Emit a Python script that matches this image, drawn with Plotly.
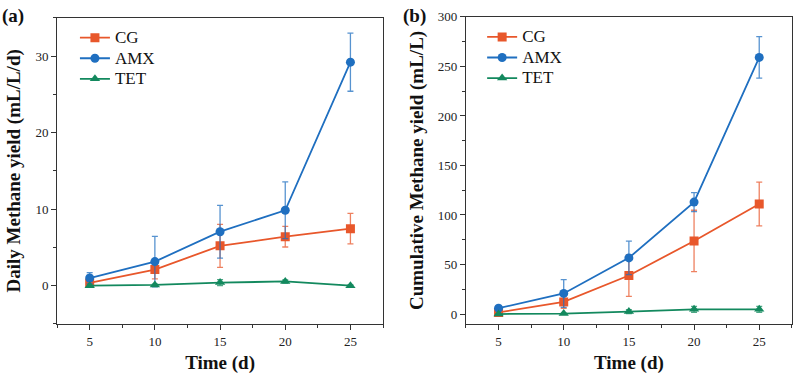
import plotly.graph_objects as go

days = [5, 10, 15, 20, 25]

# Panel (a): daily methane yield (mL/L/d)
daily_cg = [0.35, 2.1, 5.2, 6.4, 7.45]
daily_cg_err = [0.4, 1.2, 2.8, 1.35, 2.0]
daily_amx = [1.0, 3.15, 7.05, 9.85, 29.2]
daily_amx_err = [0.7, 3.3, 3.45, 3.7, 3.8]
daily_tet = [0.0, 0.1, 0.4, 0.55, 0.0]
daily_tet_err = [0.1, 0.1, 0.4, 0.2, 0.1]

# Panel (b): cumulative methane yield (mL/L)
cum_cg = [1.6, 12.2, 38.9, 73.8, 111.1]
cum_cg_err = [1.5, 6.5, 21.0, 31.0, 22.0]
cum_amx = [5.9, 20.8, 56.7, 113.0, 259.1]
cum_amx_err = [2.0, 14.0, 17.0, 9.6, 21.0]
cum_tet = [0.0, 0.5, 2.5, 4.8, 4.8]
cum_tet_err = [0.5, 0.5, 2.0, 3.0, 3.0]

names = ["CG", "AMX", "TET"]
colors = ["#E8572B", "#1F6FC0", "#13895E"]
err_colors = ["rgba(232,87,43,0.75)", "rgba(31,111,192,0.75)", "rgba(19,137,94,0.75)"]
symbols = ["square", "circle", "triangle-up"]

FONT = "Liberation Serif"

fig = go.Figure()

panel_a = [(daily_cg, daily_cg_err), (daily_amx, daily_amx_err), (daily_tet, daily_tet_err)]
panel_b = [(cum_cg, cum_cg_err), (cum_amx, cum_amx_err), (cum_tet, cum_tet_err)]


def legend_name(n):
    return "<span style='font-size:17px'>" + n + "</span>"


for i, (vals, errs) in enumerate(panel_a):
    fig.add_trace(go.Scatter(
        x=days, y=vals, name=legend_name(names[i]), mode="lines+markers",
        line=dict(color=colors[i], width=1.8),
        marker=dict(symbol=symbols[i], size=9, color=colors[i]),
        error_y=dict(type="data", array=errs, color=err_colors[i], thickness=1.3, width=3),
        xaxis="x", yaxis="y", legend="legend"))

for i, (vals, errs) in enumerate(panel_b):
    fig.add_trace(go.Scatter(
        x=days, y=vals, name=legend_name(names[i]), mode="lines+markers",
        line=dict(color=colors[i], width=1.8),
        marker=dict(symbol=symbols[i], size=9, color=colors[i]),
        error_y=dict(type="data", array=errs, color=err_colors[i], thickness=1.3, width=3),
        xaxis="x2", yaxis="y2", legend="legend2"))

axis_common = dict(
    showgrid=False, zeroline=False, showline=True, linecolor="#333", linewidth=1,
    mirror=True, ticks="outside", ticklen=5, tickwidth=1, tickcolor="#333",
    tickfont=dict(family=FONT, size=13, color="#222"),
)

title_font = dict(family=FONT, size=19, color="#111")
legend_font = dict(family=FONT, size=13.5, color="#111")

fig.update_layout(
    width=793, height=374,
    margin=dict(l=0, r=0, t=0, b=0),
    paper_bgcolor="white", plot_bgcolor="white",
    font=dict(family=FONT),
    xaxis=dict(domain=[0.072, 0.483], range=[2.5, 27.5], tickvals=days,
               minor=dict(ticks="outside", ticklen=3, dtick=2.5, tick0=2.5, tickcolor="#333"),
               title=dict(text="<b>Time (d)</b>", font=title_font, standoff=8),
               **axis_common),
    yaxis=dict(domain=[0.1364, 0.9706], range=[-5, 35], tickvals=[0, 10, 20, 30],
               minor=dict(ticks="outside", ticklen=3, dtick=5, tick0=0, tickcolor="#333"),
               title=dict(text="<b>Daily Methane yield (mL/L/d)</b>", font=title_font, standoff=9),
               **axis_common),
    xaxis2=dict(domain=[0.5876, 0.9985], range=[2.5, 27.5], tickvals=days, anchor="y2",
                minor=dict(ticks="outside", ticklen=3, dtick=2.5, tick0=2.5, tickcolor="#333"),
                title=dict(text="<b>Time (d)</b>", font=title_font, standoff=8),
                **axis_common),
    yaxis2=dict(domain=[0.1364, 0.973], range=[-10, 300], tickvals=[0, 50, 100, 150, 200, 250, 300],
                anchor="x2",
                minor=dict(ticks="outside", ticklen=3, dtick=25, tick0=0, tickcolor="#333"),
                title=dict(text="<b>Cumulative Methane yield (mL/L)</b>", font=title_font, standoff=9),
                **axis_common),
    legend=dict(x=0.0945, y=0.958, xanchor="left", yanchor="top", bgcolor="rgba(0,0,0,0)",
                font=legend_font, tracegroupgap=0, itemwidth=30),
    legend2=dict(x=0.608, y=0.96, xanchor="left", yanchor="top", bgcolor="rgba(0,0,0,0)",
                 font=legend_font, tracegroupgap=0, itemwidth=30),
    annotations=[
        dict(text="<b>(a)</b>", x=0.0, y=1.012, xref="paper", yref="paper", xanchor="left",
             yanchor="top", showarrow=False, font=dict(family=FONT, size=19, color="#111")),
        dict(text="<b>(b)</b>", x=0.506, y=1.012, xref="paper", yref="paper", xanchor="left",
             yanchor="top", showarrow=False, font=dict(family=FONT, size=19, color="#111")),
    ],
)

fig.write_html("out.html")
